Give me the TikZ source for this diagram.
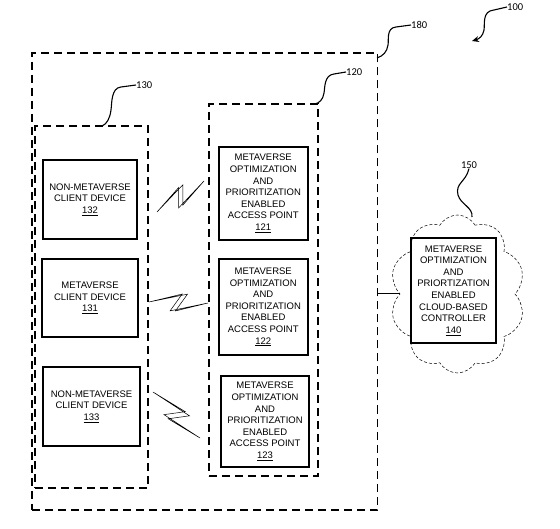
\documentclass[tikz,border=0pt]{standalone}
\usepackage{fontspec}
\setmainfont{Liberation Sans}
\newfontfamily\refnumfont{Carlito}
\usetikzlibrary{calc,shapes.symbols,arrows.meta}
\tikzset{
    grp/.style={draw, line width=1.6pt, dash pattern=on 8pt off 5pt},
    dev/.style={draw, line width=1.6pt, align=center, inner sep=1pt,
        font=\fontsize{9.5}{11.6}\selectfont},
    lead/.style={line width=1.1pt},
    refnum/.style={font=\refnumfont\fontsize{10.5}{12}\selectfont, inner sep=0pt},
    bolt/.style={draw, line width=0.5pt, fill=white, line join=miter},
}
% zigzag radio link between two coordinates
\newcommand{\zbolt}[2]{%
    \draw[bolt] (#1) -- ($(#1)!0.65!(#2)!8.5pt!90:(#2)$) -- ($(#1)!0.45!(#2)!8.5pt!-90:(#2)$)
        -- (#2) -- ($(#1)!0.36!(#2)!8.5pt!-90:(#2)$) -- ($(#1)!0.56!(#2)!8.5pt!90:(#2)$) -- cycle;}
\begin{document}
\begin{tikzpicture}[x=1pt, y=1pt]
    \useasboundingbox (0,0) rectangle (560,-529);
    % groups
    \node[grp, minimum width=345.5pt, minimum height=457pt] (g180) at (204.75,-281.5) {};
    \node[grp, minimum width=113pt, minimum height=362pt] (g130) at (91.5,-307) {};
    \node[grp, minimum width=109pt, minimum height=372pt] (g120) at (263.5,-290) {};
    % client devices
    \node[dev, minimum width=94pt, minimum height=79pt] (d132) at (90,-199.5) {NON-METAVERSE\\CLIENT DEVICE\\\underline{132}};
    \node[dev, minimum width=95.5pt, minimum height=78pt] (d131) at (90,-298) {METAVERSE\\CLIENT DEVICE\\\underline{131}};
    \node[dev, minimum width=97pt, minimum height=79pt] (d133) at (91.5,-406.5) {NON-METAVERSE\\CLIENT DEVICE\\\underline{133}};
    % access points
    \node[dev, minimum width=89pt, minimum height=93pt] (ap121) at (263.2,-193.4) {METAVERSE\\OPTIMIZATION\\AND\\PRIORITIZATION\\ENABLED\\ACCESS POINT\\\underline{121}};
    \node[dev, minimum width=89pt, minimum height=96pt] (ap122) at (263.2,-307) {METAVERSE\\OPTIMIZATION\\AND\\PRIORITIZATION\\ENABLED\\ACCESS POINT\\\underline{122}};
    \node[dev, minimum width=88pt, minimum height=91pt] (ap123) at (265,-421.5) {METAVERSE\\OPTIMIZATION\\AND\\PRIORITIZATION\\ENABLED\\ACCESS POINT\\\underline{123}};
    % cloud and controller
    \node[draw, cloud, cloud puffs=10, cloud puff arc=120, line width=0.5pt, dash pattern=on 3pt off 2pt,
        minimum width=135pt, minimum height=158pt] (cloud) at (457.5,-294) {};
    \node[dev, minimum width=85pt, minimum height=105pt] (ctl140) at (453.5,-290.5) {METAVERSE\\OPTIMIZATION\\AND\\PRIORTIZATION\\ENABLED\\CLOUD-BASED\\CONTROLLER\\\underline{140}};
    \draw[line width=1pt] (cloud.west -| g180.east) -- (cloud.west);
    % radio links
    \coordinate (s1) at (157,-212);
    \coordinate (e1) at (204,-181);
    \coordinate (s2) at (149,-302);
    \coordinate (e2) at (208,-303);
    \coordinate (s3) at (153,-392);
    \coordinate (e3) at (200,-438);
    \zbolt{s1}{e1}
    \zbolt{s2}{e2}
    \zbolt{s3}{e3}
    % reference numerals
    \node[refnum, anchor=west] (n100) at (507,-7) {100};
    \node[refnum, anchor=west] (n180) at (411,-25) {180};
    \node[refnum, anchor=west] (n120) at (346,-72) {120};
    \node[refnum, anchor=west] (n130) at (136,-85) {130};
    \node[refnum] (n150) at (469,-165) {150};
    \coordinate (c180) at (377,-58);
    \coordinate (c120) at (315,-104);
    \coordinate (c130) at (102,-126);
    \coordinate (c150) at (472,-217);
    \coordinate (c100) at (472,-41);
    \draw[lead] (n180.west) -- (396,-27) .. controls (386,-28) and (389,-40) .. (388,-45) .. controls (387,-52) and (383,-56) .. (c180);
    \draw[lead] (n120.west) -- (334,-74) .. controls (324,-75) and (325,-88) .. (324,-93) .. controls (323,-100) and (319,-103) .. (c120);
    \draw[lead] (n130.west) -- (121,-87) .. controls (111,-88) and (112,-103) .. (111,-110) .. controls (110,-118) and (107,-124) .. (c130);
    \draw[lead] (n150.south) .. controls (466,-182) and (455,-183) .. (458,-195) .. controls (461,-205) and (473,-207) .. (c150);
    \draw[lead, -{Stealth[length=7pt, width=6pt]}] (n100.west) -- (494,-10) .. controls (482,-11) and (485,-24) .. (484,-30) .. controls (483,-36) and (479,-39) .. (c100);
\end{tikzpicture}
\end{document}
